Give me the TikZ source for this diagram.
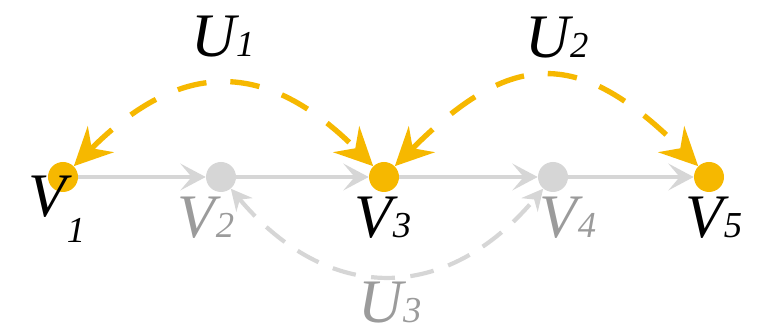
\documentclass[tikz,border=0pt]{standalone}
\usepackage{fontspec}
\setmainfont{Liberation Serif}
\usepackage{tikz}
\usetikzlibrary{arrows.meta, positioning}
\definecolor{uorange}{RGB}{246, 184, 0}
\definecolor{vgray}{RGB}{214, 214, 214}
\definecolor{labgray}{RGB}{155, 155, 155}
\newcommand{\vsub}[2]{{\itshape\fontsize{44}{48}\selectfont #1\fontsize{26}{30}\selectfont #2}}

\begin{document}
\begin{tikzpicture}[x=0.025cm, y=0.025cm,
    dot/.style={circle, inner sep=0pt, minimum size=0.75cm},
    lab/.style={anchor=base, inner sep=0pt},
    edge/.style={draw=vgray, line width=3pt, -{Stealth[length=18pt, width=19pt, inset=8pt]}},
    uarc/.style={draw=uorange, line width=3.8pt, dash pattern=on 21pt off 17pt,
      {Stealth[length=27pt, width=26pt, inset=9pt]}-{Stealth[length=27pt, width=26pt, inset=9pt]}},
    garc/.style={draw=vgray, line width=3pt, dash pattern=on 17pt off 11pt,
      {Stealth[length=15pt, width=15pt, inset=5pt]}-{Stealth[length=15pt, width=15pt, inset=5pt]}}]
  \useasboundingbox (0,0) rectangle (761,333);

  % vertices
  \node[dot, fill=uorange] (v1) at (63,156) {};
  \node[dot, fill=vgray] (v2) at (221,156) {};
  \node[dot, fill=uorange] (v3) at (384,156) {};
  \node[dot, fill=vgray] (v4) at (553,156) {};
  \node[dot, fill=uorange] (v5) at (709,156) {};

  \foreach \a/\b in {v1/v2, v2/v3, v3/v4, v4/v5}
    \draw[edge] (\a) -- (\b);

  % hyperedges
  \draw[uarc] (v1) to[out=45, in=135, looseness=1.3] (v3);
  \draw[uarc] (v3) to[out=45, in=135, looseness=1.41] (v5);
  \draw[garc] (v2) to[out=-50, in=-130, looseness=1.24] (v4);

  % labels
  \node[lab] (l1) at (57,116) {{\itshape\fontsize{44}{48}\selectfont V}\lower18pt\hbox{\itshape\fontsize{26}{30}\selectfont 1}};
  \node[lab, text=labgray] (l2) at (206,95) {\vsub{V}{2}};
  \node[lab] (l3) at (383,95) {\vsub{V}{3}};
  \node[lab, text=labgray] (l4) at (568,95) {\vsub{V}{4}};
  \node[lab] (l5) at (714,95) {\vsub{V}{5}};
  \node[lab] (u1) at (223,276) {\vsub{U}{1}};
  \node[lab] (u2) at (557,275) {\vsub{U}{2}};
  \node[lab, text=labgray] (u3) at (390,10) {\vsub{U}{3}};
\end{tikzpicture}
\end{document}
